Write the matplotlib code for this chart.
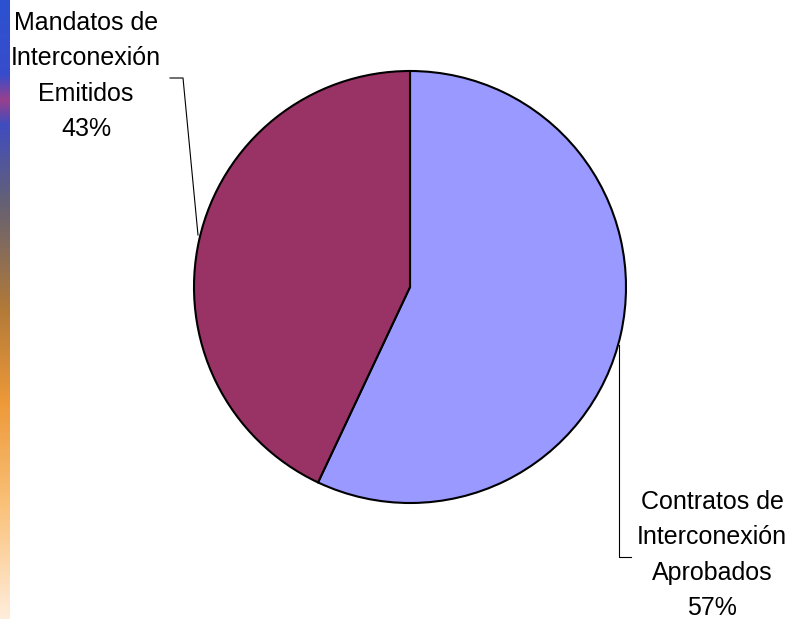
import matplotlib
matplotlib.use('Agg')
import matplotlib.pyplot as plt
import numpy as np
from matplotlib.colors import LinearSegmentedColormap

plt.rcParams['font.family'] = ['Liberation Sans', 'DejaVu Sans']

# data
labels = ['Contratos de\nInterconexión\nAprobados', 'Mandatos de\nInterconexión\nEmitidos']
shares = [57, 43]
colors = ['#9999FF', '#993366']

W, H = 795, 619
fig = plt.figure(figsize=(W / 100, H / 100), dpi=100)
ax = fig.add_axes([0, 0, 1, 1])
ax.set_xlim(0, W)
ax.set_ylim(0, H)
ax.set_aspect('equal')
ax.axis('off')

# decorative gradient strip on the left edge
strip = LinearSegmentedColormap.from_list('strip', [
    (0.00, (0.17, 0.32, 0.82)),
    (0.12, (0.22, 0.30, 0.80)),
    (0.16, (0.60, 0.25, 0.55)),
    (0.20, (0.25, 0.30, 0.75)),
    (0.33, (0.40, 0.38, 0.45)),
    (0.50, (0.70, 0.48, 0.22)),
    (0.65, (0.93, 0.60, 0.22)),
    (0.82, (0.98, 0.76, 0.48)),
    (1.00, (1.00, 0.93, 0.86)),
])
grad = np.linspace(0, 1, 256).reshape(-1, 1)
ax.imshow(grad, cmap=strip, extent=[0, 10, 0, H], origin='upper', aspect='auto', zorder=0)

# pie
ax.pie(shares, colors=colors, startangle=90, counterclock=False,
       center=(410, H - 287), radius=216,
       wedgeprops=dict(edgecolor='black', linewidth=1.5))
ax.set_xlim(0, W)
ax.set_ylim(0, H)

# leader lines
ax.plot([170, 183, 198], [H - 78, H - 78, H - 235], color='black', lw=0.8)
ax.plot([619, 619, 631], [H - 345, H - 557, H - 557], color='black', lw=0.8)

# labels
for lab, pct, (x, y) in zip(labels, shares, [(712, 555), (86, 76)]):
    ax.text(x, H - y, f'{lab}\n{pct}%', ha='center', va='center',
            fontsize=18, linespacing=1.6, color='black')

fig.savefig('out.png', dpi=100)
